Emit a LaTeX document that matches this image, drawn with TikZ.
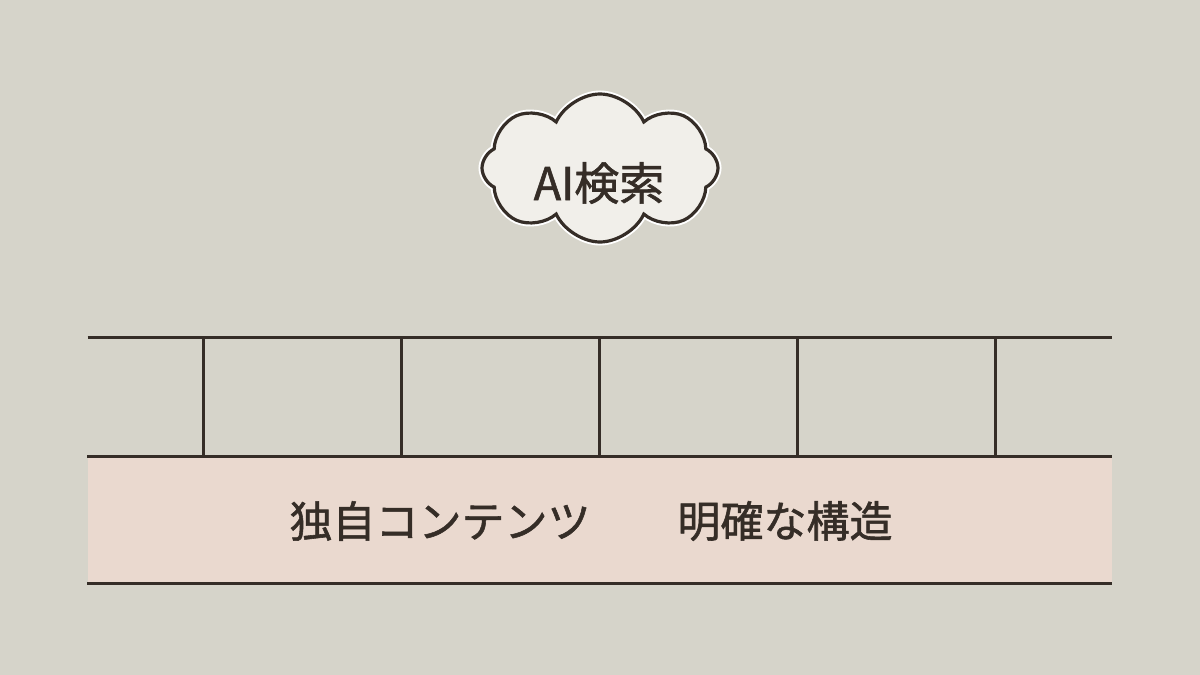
\documentclass[tikz,border=0pt]{standalone}
\usepackage{fontspec}
\setmainfont{Noto Sans CJK JP}[FakeBold=1.3]
\usetikzlibrary{shapes.symbols}
\definecolor{paper}{HTML}{D6D4CA}
\definecolor{blush}{HTML}{EAD9CF}
\definecolor{ink}{HTML}{352D27}
\definecolor{puff}{HTML}{F1EFEA}

\tikzset{
  rail/.style={draw=ink, line width=3pt},
  label/.style={text=ink, font=\fontsize{43}{43}\selectfont, inner sep=0pt}
}

\begin{document}
\begin{tikzpicture}[x=1pt, y=-1pt]
\fill[paper] (0,0) rectangle (1200,675);
\useasboundingbox (0,0) rectangle (1200,675);
% cloud
\node[cloud, cloud puffs=8, cloud puff arc=130, aspect=1.55,
  shape border rotate=12,
  minimum width=236pt, minimum height=148pt, fill=puff,
  draw=ink, line width=3.2pt, preaction={draw=white, line width=7pt}]
  (cloud) at (600,168) {};
\node[label, font=\fontsize{45}{45}\selectfont] (ai) at (599,183) {AI検索};
% band
\node[fill=blush, minimum width=1024pt, minimum height=126pt, inner sep=0pt]
  (band) at (599.5,520) {};
\draw[rail] (band.north west) -- (band.north east);
\draw[rail] (band.south west) -- (band.south east);
\coordinate (railw) at (87.5,337);
\coordinate (raile) at (1111.5,337);
\draw[rail] (railw) -- (raile);
\foreach \x in {203,401,599,797,995}
  \draw[rail] (\x,337) -- (\x,457);
\node[label] (own) at (440,521) {独自コンテンツ};
\node[label] (clear) at (785,521) {明確な構造};
\end{tikzpicture}
\end{document}
